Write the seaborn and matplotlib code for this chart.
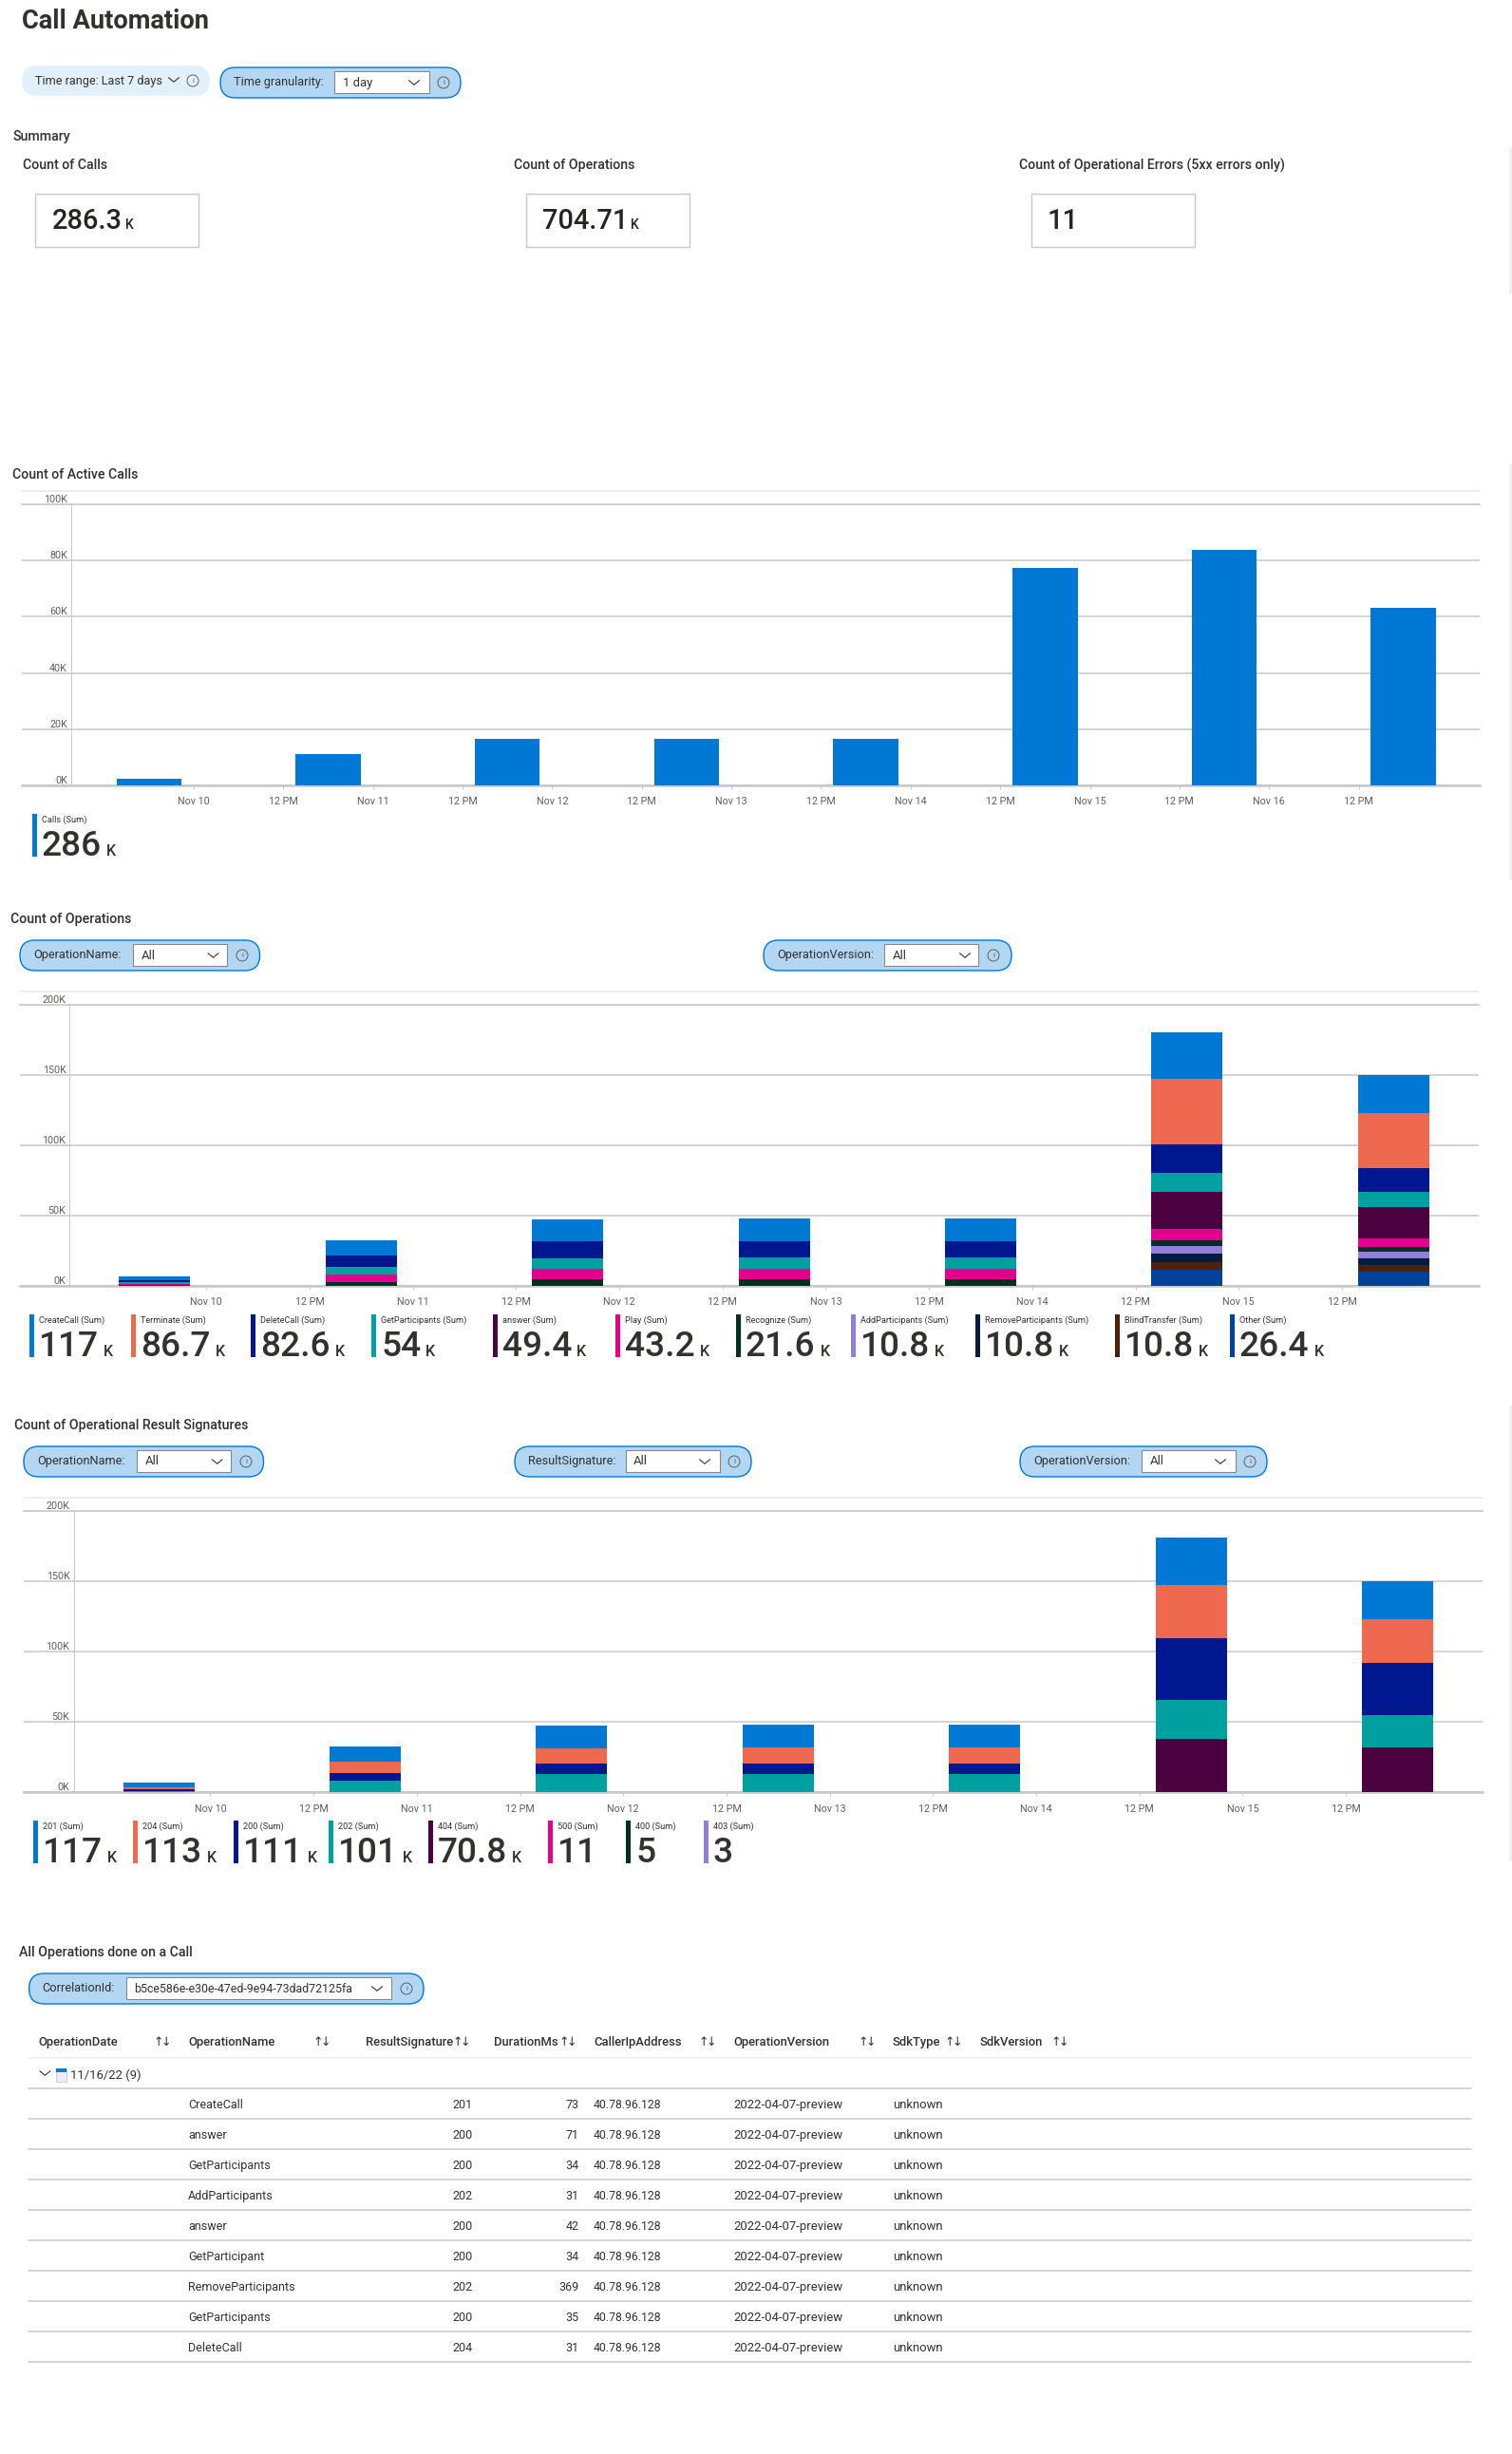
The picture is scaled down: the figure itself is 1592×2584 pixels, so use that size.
import numpy as np
import pandas as pd
import matplotlib
matplotlib.use("Agg")
import matplotlib.pyplot as plt
from matplotlib.patches import FancyBboxPatch, Rectangle, Circle
import seaborn as sns

W, H = 1592, 2584
FONT = "Roboto"
TXT = "#323130"
SUB = "#605e5c"
GRID = "#c8c8c8"

# ---------------- data ----------------
day_ticks = ["Nov 10", "12 PM", "Nov 11", "12 PM", "Nov 12", "12 PM", "Nov 13", "12 PM",
             "Nov 14", "12 PM", "Nov 15", "12 PM", "Nov 16", "12 PM"]
bar_days = [-0.25, 0.75, 1.75, 2.75, 3.75, 4.75, 5.75, 6.75]

active_calls = [2300, 11000, 16500, 16500, 16500, 77500, 84000, 63200]

ops_names = ["CreateCall", "Terminate", "DeleteCall", "GetParticipants", "answer", "Play",
             "Recognize", "AddParticipants", "RemoveParticipants", "BlindTransfer", "Other"]
ops_totals = ["117", "86.7", "82.6", "54", "49.4", "43.2", "21.6", "10.8", "10.8", "10.8", "26.4"]
ops_create = [2700, 10800, 15500, 15800, 15800, 33100, 27000]
ops_terminate = [0, 0, 0, 0, 0, 46600, 39400]
ops_delete = [1600, 7900, 12200, 11900, 11900, 20700, 16900]
ops_getpart = [1100, 5400, 7200, 7900, 7900, 13500, 10800]
ops_answer = [0, 0, 0, 0, 0, 26600, 22300]
ops_play = [900, 5400, 7700, 7700, 7700, 7900, 6100]
ops_recognize = [150, 2500, 4300, 4300, 4300, 3800, 3200]
ops_add = [0, 0, 0, 0, 0, 5600, 5000]
ops_remove = [0, 0, 0, 0, 0, 5900, 4700]
ops_blind = [0, 0, 0, 0, 0, 5900, 5000]
ops_other = [0, 0, 0, 0, 0, 11000, 9500]

sig_names = ["201", "204", "200", "202", "404", "500", "400", "403"]
sig_totals = ["117", "113", "111", "101", "70.8", "11", "5", "3"]
sig_suffix = ["K", "K", "K", "K", "K", "", "", ""]
sig_201 = [3000, 10800, 15800, 15800, 15800, 33300, 27500]
sig_204 = [1600, 7900, 11300, 11500, 11500, 38000, 31100]
sig_200 = [1300, 5400, 7400, 7900, 7900, 44400, 37200]
sig_202 = [800, 8100, 12600, 12600, 12600, 27700, 22500]
sig_404 = [0, 0, 0, 0, 0, 37600, 32000]

palette = ["#0078D4", "#EF6950", "#00188F", "#00A0A0", "#4B003F", "#E3008C",
           "#022F22", "#917EDB", "#001D3F", "#4F2009", "#00419A"]

table_cols = ["OperationDate", "OperationName", "ResultSignature", "DurationMs", "CallerIpAddress",
              "OperationVersion", "SdkType", "SdkVersion"]
row_ops = ["CreateCall", "answer", "GetParticipants", "AddParticipants", "answer", "GetParticipant",
           "RemoveParticipants", "GetParticipants", "DeleteCall"]
row_sig = ["201", "200", "200", "202", "200", "200", "202", "200", "204"]
row_dur = ["73", "71", "34", "31", "42", "34", "369", "35", "31"]
row_ip = "40.78.96.128"
row_ver = "2022-04-07-preview"
row_sdk = "unknown"

# ---------------- figure ----------------
sns.set_theme(style="white")
plt.rcParams["font.family"] = [FONT, "DejaVu Sans"]
fig = plt.figure(figsize=(W / 100, H / 100), dpi=100, facecolor="white")
ui = fig.add_axes([0, 0, 1, 1], zorder=0)
ui.set_xlim(0, W)
ui.set_ylim(H, 0)
ui.axis("off")
rend = fig.canvas.get_renderer()


def T(x, y, s, px=13, color=TXT, ha="left", va="center", weight="normal", family=None):
    kw = {}
    if family:
        kw["family"] = family
    return ui.text(x, y, s, fontsize=px * 0.72, color=color, ha=ha, va=va, fontweight=weight, **kw)


def chevron(cx, cy, w=5.5, h=4.5, color="#323130"):
    ui.plot([cx - w, cx, cx + w], [cy - h / 2, cy + h / 2, cy - h / 2], color=color, lw=0.8)


def info(cx, cy, color="#605e5c"):
    ui.add_patch(Circle((cx, cy), 6, fc="none", ec=color, lw=0.7))
    T(cx, cy, "i", 8, color, ha="center")


def pill(x0, y0, x1, y1, fc="#B3D6F2", ec="#0078D4"):
    h = y1 - y0
    ui.add_patch(FancyBboxPatch((x0, y0), x1 - x0, h, boxstyle=f"round,pad=0,rounding_size={h/2}",
                                fc=fc, ec=ec if ec else fc, lw=1.0 if ec else 0))


def dropdown_pill(box, label, lx, dd, value, vx, cx, ix, vpx=13):
    x0, y0, x1, y1 = box
    pill(x0, y0, x1, y1)
    cy = (y0 + y1) / 2
    T(lx, cy - 0.5, label, 12.8)
    dx0, dx1 = dd
    ui.add_patch(Rectangle((dx0, y0 + 4), dx1 - dx0, y1 - y0 - 9, fc="white", ec="#8a8886", lw=0.8))
    T(vx, cy, value, vpx)
    chevron(cx, cy)
    info(ix, cy)


def kpi(x, top, bottom, label, value, color, suffix="K"):
    ui.add_patch(Rectangle((x, top), 5, bottom - top, fc=color, ec="none"))
    T(x + 10, top + 6, label + " (Sum)", 9.2, va="center")
    t = T(x + 10, bottom - 1, value, 37, "#323130", va="baseline", weight="medium")
    bb = t.get_window_extent(rend)
    if suffix:
        T(bb.x1 + 5, bottom - 1, suffix, 16, "#323130", va="baseline", weight="medium")


def chart_axes(left, right, y_top, y_zero, ymax, yticks, ylabels, x0_px, step_px, ticklabels, axis_px, top_line):
    ax = fig.add_axes([left / W, 1 - y_zero / H, (right - left) / W, (y_zero - y_top) / H], zorder=2)
    ax.patch.set_alpha(0)
    ui.plot([left, right], [top_line, top_line], color="#e8e8e8", lw=1.1)
    return ax


def finish(ax, left, right, y_top, y_zero, ymax, yticks, ylabels, x0_px, step_px, ticklabels, axis_px):
    ax.set_xlim((left - x0_px) / step_px, (right - x0_px) / step_px)
    ax.set_ylim(0, ymax)
    ax.set_xlabel("")
    ax.set_ylabel("")
    ax.set_yticks(yticks)
    ax.set_yticklabels(ylabels, va="bottom", color=SUB, fontsize=10.8 * 0.72)
    ax.tick_params(axis="y", length=0, pad=-(axis_px - left - 4) * 0.72)
    ax.set_xticks(np.arange(len(ticklabels)) * 0.5)
    ax.set_xticklabels(ticklabels, color=SUB, fontsize=10.8 * 0.72)
    ax.tick_params(axis="x", length=3.2, width=0.7, color=GRID, pad=6, bottom=True)
    ax.grid(axis="y", color=GRID, lw=1.1)
    ax.grid(axis="x", visible=False)
    ax.set_axisbelow(True)
    for s in ["left", "right"]:
        ax.spines[s].set_visible(False)
    ax.spines["top"].set_color(GRID)
    ax.spines["top"].set_linewidth(1.1)
    ax.spines["bottom"].set_color(GRID)
    ax.spines["bottom"].set_linewidth(1.8)
    ax.axvline((axis_px - x0_px) / step_px, color=GRID, lw=0.7, zorder=1)


def stacked(ax, days, series, colors, width):
    remaining = np.sum(series, axis=0).astype(float)
    for vals, c in zip(series, colors):
        if np.sum(vals) == 0:
            continue
        sns.barplot(x=days, y=remaining, color=c, saturation=1, width=width, native_scale=True,
                    errorbar=None, ax=ax, legend=False, linewidth=0, zorder=3)
        remaining = remaining - np.array(vals, dtype=float)


# ---------------- header ----------------
T(23, 22, "Call Automation", 27.3, weight="bold")
pill(23, 69, 221, 101, fc="#E1F0FB", ec=None)
T(37, 85.5, "Time range: Last 7 days", 12.6)
chevron(183, 84)
info(203, 85)
dropdown_pill((232, 71, 485, 103), "Time granularity:", 246, (352, 452), "1 day", 361, 436, 467)

T(13, 144, "Summary", 14.1, weight="medium")
for x, lab in zip([24, 541, 1073], ["Count of Calls", "Count of Operations", "Count of Operational Errors (5xx errors only)"]):
    T(x, 174, lab, 14.1, weight="medium")
for bx, tx, val, suf in zip([37, 554, 1086], [55, 571, 1103], ["286.3", "704.71", "11"], ["K", "K", ""]):
    ui.add_patch(Rectangle((bx, 204), 172, 56, fc="white", ec=GRID, lw=1.0))
    t = T(tx, 241, val, 29, va="baseline", color="#252423", weight="medium")
    bb = t.get_window_extent(rend)
    if suf:
        T(bb.x1 + 3, 241, suf, 14, va="baseline", color="#252423", weight="medium")

# scrollbar strips at the right edge of the page
for y0, y1 in [(155, 309), (488, 926), (1480, 1960)]:
    ui.add_patch(Rectangle((1589, y0), 2.5, y1 - y0, fc="#f0f0f0", ec="none"))

# ---------------- chart 1 ----------------
T(13, 500, "Count of Active Calls", 14.1, weight="medium")
args1 = (23, 1558, 531.3, 826.7, 100000, [0, 20000, 40000, 60000, 80000, 100000],
         ["0K", "20K", "40K", "60K", "80K", "100K"], 204, 188.7, day_ticks, 75)
ax1 = chart_axes(*args1, 517)
sns.barplot(x=bar_days, y=active_calls, color=palette[0], saturation=1, width=0.363, native_scale=True,
            errorbar=None, ax=ax1, legend=False, linewidth=0, zorder=3)
finish(ax1, *args1)
kpi(33.5, 857, 902, "Calls", "286", palette[0])

# ---------------- chart 2 ----------------
T(11, 968, "Count of Operations", 14.1, weight="medium")
dropdown_pill((21, 990, 273.5, 1022), "OperationName:", 35, (140, 239), "All", 149, 224.5, 255)
dropdown_pill((804, 990, 1065, 1022), "OperationVersion:", 818, (931, 1030), "All", 940, 1016, 1046)
args2 = (21, 1557, 1058.3, 1353.5, 200000, [0, 50000, 100000, 150000, 200000],
         ["0K", "50K", "100K", "150K", "200K"], 217.3, 217.4, day_ticks[:12], 73.5)
ax2 = chart_axes(*args2, 1044.3)
ops_series = [ops_create, ops_terminate, ops_delete, ops_getpart, ops_answer, ops_play,
              ops_recognize, ops_add, ops_remove, ops_blind, ops_other]
stacked(ax2, bar_days[:7], ops_series, palette, 0.345)
finish(ax2, *args2)
for x, n, v, c in zip([31, 138, 264, 391, 519, 648, 775, 896, 1027, 1174, 1295], ops_names, ops_totals, palette):
    kpi(x, 1384, 1429, n, v, c)

# ---------------- chart 3 ----------------
T(15, 1501, "Count of Operational Result Signatures", 14.1, weight="medium")
dropdown_pill((25, 1523, 277.5, 1555), "OperationName:", 39, (144, 243), "All", 153, 228.6, 259)
dropdown_pill((542, 1523, 791, 1555), "ResultSignature:", 556, (659, 758), "All", 667, 742, 773)
dropdown_pill((1074, 1523, 1334, 1555), "OperationVersion:", 1088, (1201.5, 1300.5), "All", 1210.6, 1285, 1316)
args3 = (25, 1561, 1591.3, 1887, 200000, [0, 50000, 100000, 150000, 200000],
         ["0K", "50K", "100K", "150K", "200K"], 221.4, 217.4, day_ticks[:12], 77.5)
ax3 = chart_axes(*args3, 1577.3)
stacked(ax3, bar_days[:7], [sig_201, sig_204, sig_200, sig_202, sig_404], palette, 0.345)
finish(ax3, *args3)
for x, n, v, c, s in zip([35, 140, 246, 346, 451, 577, 659, 741], sig_names, sig_totals, palette, sig_suffix):
    kpi(x, 1917, 1962, n, v, c, s)

# ---------------- table ----------------
T(20, 2056, "All Operations done on a Call", 14.1, weight="medium")
dropdown_pill((30.6, 2078, 446, 2110), "CorrelationId:", 44, (132.6, 412),
              "b5ce586e-e30e-47ed-9e94-73dad72125fa", 141, 397, 428, vpx=12.4)
col_x = [40, 198, 385, 520, 625, 772, 940, 1031]
arrow_x = [171, 339, 486, 598, 745, 913, 1004, 1116]
for x, ax_, lab in zip(col_x, arrow_x, table_cols):
    T(x, 2150.5, lab, 13, weight="medium")
    T(ax_ - 4, 2150, "↑", 12.5, ha="center", family=["DejaVu Sans"])
    T(ax_ + 4, 2151, "↓", 12.5, ha="center", family=["DejaVu Sans"])
ui.plot([30, 1549], [2167, 2167], color="#ececec", lw=1.1)
chevron(47.4, 2183)
ui.add_patch(Rectangle((59, 2178), 11, 14, fc="#efeaf5", ec="#c8c6e0", lw=0.6))
ui.add_patch(Rectangle((59, 2178), 11, 4, fc="#0078D4", ec="none"))
T(74, 2185, "11/16/22 (9)", 13)
ui.plot([30, 1549], [2199.3, 2199.3], color=GRID, lw=1.1)
for i, (op, sg, du) in enumerate(zip(row_ops, row_sig, row_dur)):
    y = 2216.7 + 32 * i
    T(198, y, op, 12.5)
    T(497.5, y, sg, 12.5, ha="right")
    T(610, y, du, 12.5, ha="right")
    T(625, y, row_ip, 12.2)
    T(772, y, row_ver, 13.1)
    T(940, y, row_sdk, 13)
    ui.plot([30, 1549], [2231.3 + 32 * i] * 2, color=GRID, lw=1.1)

ui.set_xlim(0, W)
ui.set_ylim(H, 0)
fig.savefig("out.png", dpi=100, facecolor="white")
